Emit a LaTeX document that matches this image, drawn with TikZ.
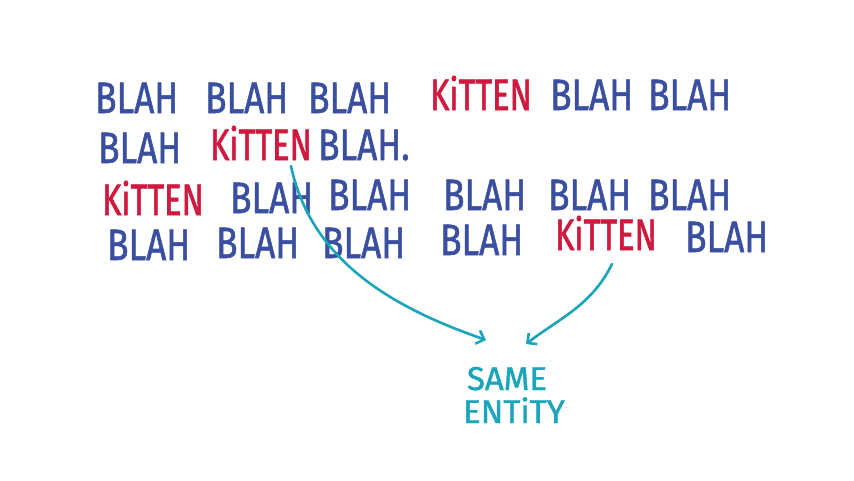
\documentclass[tikz,border=0pt]{standalone}
\usepackage{fontspec}
\usetikzlibrary{arrows.meta}
\newfontfamily\handfont[FakeStretch=0.8,FakeBold=1.2]{Fira Sans}
\newfontfamily\kitfont[FakeStretch=0.74,FakeBold=1.2]{Fira Sans}
\newfontfamily\notefont[FakeStretch=1.0,FakeBold=1.2]{Fira Sans}
\definecolor{inkblue}{HTML}{3A4FA0}
\definecolor{inkred}{HTML}{D0193F}
\definecolor{inkcyan}{HTML}{1AA5BA}
\tikzset{
  blah/.style={anchor=base west, inner sep=0pt, text=inkblue, font=\handfont\fontsize{44}{44}\selectfont},
  kit/.style={anchor=base west, inner sep=0pt, text=inkred, font=\kitfont\fontsize{44}{44}\selectfont},
  note/.style={anchor=base, inner sep=0pt, text=inkcyan, font=\notefont\fontsize{33}{33}\selectfont},
  link/.style={draw=inkcyan, line width=2.6pt, line cap=round, -{Straight Barb[length=7pt,width=14pt,line width=2.6pt]}}
}
\begin{document}
\begin{tikzpicture}[x=1pt,y=-1pt]
\useasboundingbox (0,0) rectangle (854,480);
\fill[white] (0,0) rectangle (854,480);
% line 1
\node[blah] (a1) at (95,113) {BLAH};
\node[blah] (a2) at (205,113) {BLAH};
\node[blah] (a3) at (308,113) {BLAH};
\node[kit]  (a4) at (430,110) {KiTTEN};
\node[blah] (a5) at (550,110) {BLAH};
\node[blah] (a6) at (648,110) {BLAH};
% line 2
\node[blah] (b1) at (98,163) {BLAH};
\node[kit]  (b2) at (210,160) {KiTTEN};
\node[blah] (b3) at (318,160) {BLAH.};
% line 3
\node[kit]  (c1) at (102,215) {KiTTEN};
\node[blah] (c2) at (230,213) {BLAH};
\node[blah] (c3) at (328,210) {BLAH};
\node[blah] (c4) at (443,210) {BLAH};
\node[blah] (c5) at (548,210) {BLAH};
\node[blah] (c6) at (648,210) {BLAH};
% line 4
\node[blah] (d1) at (107,260) {BLAH};
\node[blah] (d2) at (216,258) {BLAH};
\node[blah] (d3) at (322,258) {BLAH};
\node[blah] (d4) at (440,255) {BLAH};
\node[kit]  (d5) at (555,250) {KiTTEN};
\node[blah] (d6) at (685,252) {BLAH};
% target
\node[note] (s1) at (507,390) {SAME};
\node[note] (s2) at (514,423) {ENTiTY};
\coordinate (p1) at (291,166);
\coordinate (q1) at (486,340);
\coordinate (p2) at (612,264);
\coordinate (q2) at (526,344);
\draw[link] (p1) .. controls (312,265) and (400,310) .. (q1);
\draw[link] (p2) .. controls (592,305) and (560,318) .. (q2);
\end{tikzpicture}
\end{document}
